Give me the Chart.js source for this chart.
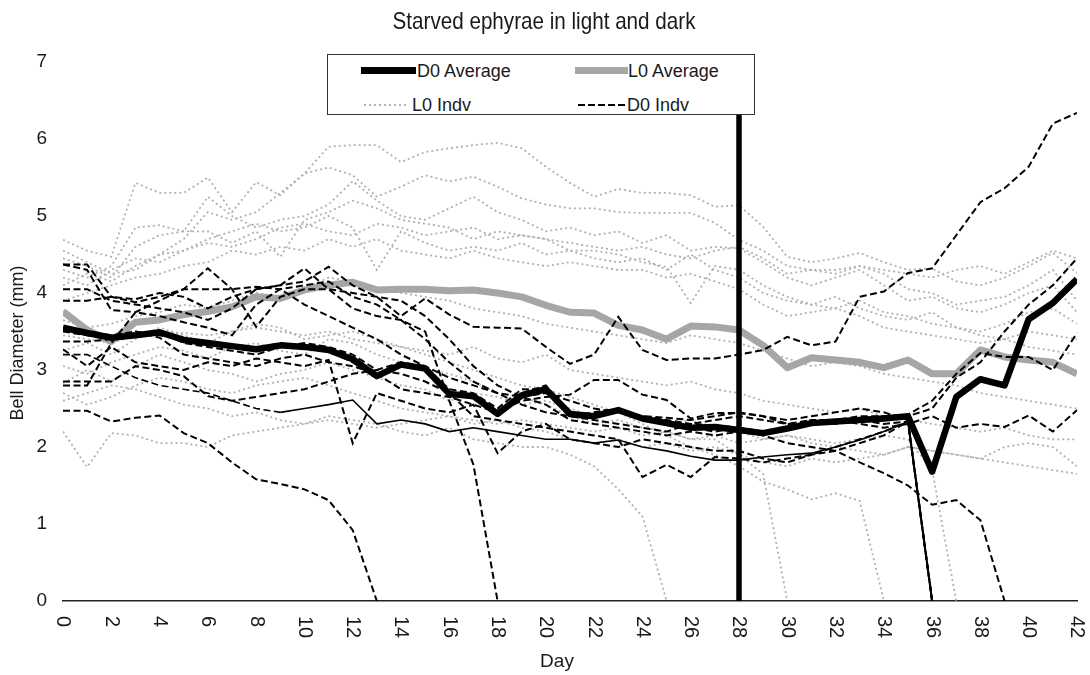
<!DOCTYPE html>
<html>
<head>
<meta charset="utf-8">
<script src="https://cdn.jsdelivr.net/npm/chart.js@4.4.1/dist/chart.umd.min.js"></script>
<style>
  html, body { margin: 0; padding: 0; background: #fff; }
  #wrap { position: relative; width: 1090px; height: 675px; }
  #legend {
    position: absolute; left: 327px; top: 54px; width: 426px; height: 59px;
    border: 1.5px solid #333; background: #fff;
    font-family: 'Liberation Sans Narrow', 'Arial Narrow', 'Liberation Sans', Arial, sans-serif;
    font-size: 18px; color: #1a1a1a;
  }
  #legend .txt { position: absolute; line-height: 20px; white-space: nowrap; }
  #legend .smp { position: absolute; }
</style>
</head>
<body>
<div id="wrap">
  <canvas id="chart" width="1090" height="675"></canvas>
  <div id="legend">
    <div class="smp" style="left:33px;top:12px;width:55px;height:7px;background:#000;"></div>
    <div class="txt" style="left:89px;top:6px;">D0 Average</div>
    <div class="smp" style="left:247px;top:12px;width:53px;height:7px;background:#aaa5a5;"></div>
    <div class="txt" style="left:300px;top:6px;">L0 Average</div>
    <div class="smp" style="left:36px;top:49px;width:45px;height:2px;background:repeating-linear-gradient(90deg,#b3b3b3 0 2px,transparent 2px 5px);"></div>
    <div class="txt" style="left:84px;top:40px;">L0 Indv</div>
    <div class="smp" style="left:250px;top:49px;width:48px;height:2px;background:repeating-linear-gradient(90deg,#000 0 7px,transparent 7px 10px);"></div>
    <div class="txt" style="left:299px;top:40px;">D0 Indv</div>
  </div>
</div>
<script>
const days = [0,1,2,3,4,5,6,7,8,9,10,11,12,13,14,15,16,17,18,19,20,21,22,23,24,25,26,27,28,29,30,31,32,33,34,35,36,37,38,39,40,41,42];
const markerDay = 28;

const d0Average = [3.55,3.48,3.42,3.45,3.49,3.39,3.35,3.31,3.27,3.32, 3.30,3.26,3.14,2.92,3.07,3.02,2.69,2.66,2.43,2.67, 2.75,2.43,2.40,2.48,2.37,2.31,2.25,2.26,2.22,2.18, 2.24,2.31,2.33,2.35,2.37,2.40,1.68,2.65,2.88,2.80, 3.66,3.87,4.18];
const l0Average = [3.76,3.52,3.37,3.62,3.65,3.72,3.76,3.82,3.95,3.93, 4.04,4.10,4.14,4.04,4.05,4.05,4.03,4.04,4.00,3.95, 3.84,3.75,3.74,3.58,3.52,3.40,3.57,3.56,3.52,3.32, 3.03,3.16,3.13,3.10,3.03,3.13,2.95,2.95,3.26,3.17, 3.13,3.10,2.95];

// L0 individuals (light)
const l0a = [4.69,4.55,4.47,5.43,5.30,5.30,5.50,5.05,5.44,5.27, 5.55,5.90,5.92,5.92,5.70,5.83,5.88,5.92,5.95,5.88, 5.64,5.43,5.25,5.35,5.30,5.30,5.27,5.12,5.14,4.86, 4.47,4.40,4.45,4.52,4.40,4.30,4.32,4.15,4.10,4.20, 4.35,4.52,4.26];
const l0b = [4.55,4.40,4.25,4.30,4.50,4.70,5.05,4.95,5.05,5.30, 5.55,5.63,5.53,5.25,5.38,5.53,5.45,5.51,5.38,5.23, 5.15,5.10,5.10,5.05,5.04,5.04,5.04,4.91,4.69,4.55, 4.35,4.30,4.30,4.35,4.25,4.05,4.00,3.85,3.90,3.95, 4.10,4.30,3.90];
const l0c = [4.45,4.35,4.20,4.60,4.75,4.80,5.25,5.00,4.85,4.95, 5.00,5.15,5.45,5.20,5.00,4.95,5.10,5.25,5.05,4.95, 4.80,4.85,4.75,4.80,4.65,4.75,4.55,4.60,4.58,4.40, 4.20,4.10,4.20,4.30,4.10,3.90,3.95,3.80,3.75,3.85, 4.00,4.10,3.75];
const l0d = [4.30,4.20,4.35,4.85,4.88,4.80,4.80,4.65,4.80,4.47, 4.95,5.05,5.20,5.10,4.95,4.90,4.85,4.70,4.80,4.75, 4.70,4.55,4.55,4.50,4.40,4.34,3.87,4.35,4.30,4.10, 3.95,3.85,3.80,3.90,3.75,3.70,3.60,3.55,3.50,3.60, 3.75,3.80,3.60];
const l0e = [4.10,4.25,4.15,4.35,4.50,4.55,4.70,4.80,4.90,4.80, 4.85,5.00,4.85,4.30,4.80,4.65,4.55,4.60,4.55,4.65, 4.50,4.55,4.45,4.40,4.45,4.30,4.50,4.30,4.20,4.00, 3.90,3.85,3.95,3.80,3.70,3.65,3.75,3.55,3.45,3.40, 3.50,3.45,3.40];
const l0f = [3.90,4.00,4.10,4.20,4.25,4.35,4.40,4.55,4.50,4.60, 4.55,4.70,4.60,4.70,4.55,4.50,4.45,4.55,4.45,4.40, 4.35,4.40,4.35,4.30,4.30,4.20,4.25,4.15,4.05,3.85, 3.70,3.75,3.80,3.70,3.55,3.50,3.45,3.40,3.35,3.40, 3.30,3.25,3.20];
const l0g = [3.65,3.55,3.60,3.70,3.75,3.85,3.80,3.90,4.00,3.95, 4.05,4.20,4.15,4.05,4.00,3.95,3.90,3.80,3.75,3.70, 3.60,3.55,3.50,3.45,3.40,3.35,3.45,3.40,3.35,3.25, 3.15,3.05,3.10,3.05,2.95,2.90,2.85,2.80,2.70,2.65, 2.60,2.55,2.50];
const l0h = [3.45,3.40,3.35,3.45,3.50,3.48,3.45,3.50,3.55,3.50, 3.45,3.50,3.40,3.35,3.30,3.25,3.20,3.30,3.15,3.10, 3.20,3.00,2.95,2.90,2.85,2.80,2.85,2.75,2.70,2.60, 2.55,2.50,2.45,2.50,2.40,2.35,2.30,2.25,2.20,2.25, 2.15,2.10,2.10];
const l0i = [2.83,3.00,2.85,3.05,3.20,3.10,3.00,2.95,2.85,2.95, 3.00,3.10,3.00,2.90,2.80,2.75,2.60,2.70,2.65,2.55, 2.60,2.50,2.40,2.45,2.35,2.30,2.35,2.25,2.20,2.10, 2.15,2.05,2.00,1.95,1.90,2.00,1.95,1.90,1.85,1.80, 1.75,1.70,1.65];
const l0j = [2.60,2.70,2.80,2.75,2.65,2.55,2.50,2.40,2.45,2.35, 2.30,2.40,2.35,2.30,2.20,2.15,2.25,2.10,2.05,2.00, 2.00,1.90,1.75,1.45,1.10,0];
const l0k = [2.20,1.74,2.18,2.15,2.05,2.05,2.00,2.15,2.20,2.25, 2.30,2.35,2.30,2.25,2.30,2.35,2.40,2.30,2.35,2.25, 2.20,2.10,2.05,2.10,2.00,2.05,1.95,2.00,1.90,1.80, 1.75,1.85,1.80,1.85,1.90,2.00,1.95,1.90,1.85,2.00, 2.05,2.00,1.75];
const l0l = [3.05,2.95,3.10,3.20,3.30,3.25,3.15,3.30,3.35,3.25, 3.20,3.40,3.35,3.20,3.10,3.00,2.95,2.85,2.70,2.65, 2.55,2.40,2.30,2.35,2.25,2.20,2.10,2.10,1.90,1.65, 0];
const l0m = [3.25,3.35,3.20,3.40,3.55,3.45,3.35,3.50,3.60,3.55, 3.40,3.45,3.50,3.40,3.30,3.20,3.10,3.00,2.90,2.80, 2.75,2.65,2.55,2.45,2.30,2.15,2.00,1.90,1.75,1.55, 1.45,1.32,1.40,1.30,0];
const l0n = [2.70,2.55,2.65,2.80,2.90,2.85,2.75,2.70,2.80,2.85, 2.90,2.80,2.70,2.60,2.50,2.45,2.40,2.35,2.30,2.35, 2.30,2.25,2.20,2.25,2.15,2.20,2.10,2.15,2.05,2.10, 2.15,2.10,2.05,2.10,2.15,2.10,1.70,0];
const l0o = [4.20,4.10,4.30,4.45,4.40,4.55,4.65,4.60,4.70,4.85, 4.90,4.80,4.75,4.90,4.85,4.75,4.80,4.85,4.70,4.75, 4.70,4.65,4.60,4.55,4.60,4.50,4.45,4.55,4.60,4.45, 4.25,4.30,4.25,4.35,4.30,4.25,4.20,4.30,4.35,4.25, 4.40,4.55,4.45];

// D0 individuals (dark)
const d0a = [2.47,2.47,2.33,2.38,2.41,2.18,2.05,1.80,1.58,1.52, 1.45,1.31,0.92,0];
const d0b = [4.37,4.37,3.95,3.88,3.95,4.05,4.05,4.05,4.08,4.05, 4.10,4.15,3.95,3.85,3.65,3.40,3.10,2.85,2.70,2.55, 2.45,2.40,2.35,2.30,2.25,2.20,2.30,2.35,2.40,2.35, 2.30,2.30,2.35,2.40,2.40,2.40,2.50,2.90,3.10,3.50, 3.85,4.10,4.45];
const d0c = [4.37,4.30,3.78,3.75,3.90,4.05,4.32,4.05,3.56,3.95, 4.05,4.05,4.00,3.95,3.90,3.70,3.40,3.05,2.80,2.65, 2.55,2.35,2.30,2.25,2.20,2.15,2.20,2.15,2.20,2.15, 2.05,2.00,1.95,1.80,1.66,1.50,1.25,1.31,1.05,0];
const d0d = [4.05,4.05,3.90,3.85,3.80,3.75,3.65,3.80,4.05,4.10, 4.32,4.05,3.80,3.70,3.65,3.50,2.60,1.77,0];
const d0e = [3.90,3.90,3.95,3.92,4.00,3.95,3.80,3.95,4.05,4.10, 4.15,4.34,4.10,3.95,3.70,3.93,3.72,3.56,3.55,3.54, 3.30,3.08,3.20,3.69,3.26,3.13,3.15,3.15,3.20,3.26, 3.43,3.32,3.37,3.95,4.02,4.26,4.32,4.75,5.18,5.36, 5.64,6.20,6.34];
const d0f = [3.55,3.50,3.45,3.50,3.45,3.40,3.35,3.30,3.28,3.35, 3.30,3.25,3.10,2.90,3.05,3.00,2.70,2.65,2.45,2.70, 2.80,2.45,2.40,2.48,2.40,2.35,2.30,2.28,2.25,2.20, 2.25,2.35,2.35,2.38,2.40,2.42,2.60,2.95,3.22,3.17, 3.17,3.00,3.48];
const d0g = [3.50,3.45,3.40,3.45,3.50,3.35,3.30,3.25,3.20,3.30, 3.35,3.30,3.20,3.00,3.10,3.05,2.75,2.70,2.50,2.75, 2.75,2.40,2.45,2.50,2.35,2.30,2.25,2.20,2.25,2.20, 2.25,2.30,2.35,2.30,2.25,2.30,2.40,2.25,2.30,2.26, 2.41,2.20,2.48];
const d0h = [3.37,3.37,3.40,3.50,3.42,3.20,3.15,3.10,3.05,3.15, 3.20,3.10,3.05,2.95,2.75,2.70,2.65,2.55,2.45,2.60, 2.65,2.68,2.87,2.87,2.68,2.61,2.37,2.44,2.44,2.40, 2.35,2.40,2.45,2.50,2.45,2.35,0];
const d0i = [3.20,3.20,3.05,2.90,2.80,2.75,2.70,2.60,2.50,2.45, 2.50,2.55,2.61,2.30,2.35,2.30,2.20,2.25,2.20,2.15, 2.10,2.10,2.05,2.09,2.00,1.95,1.88,1.83,1.83,1.87, 1.90,1.92,2.00,2.09,2.20,2.33,0];
const d0j = [3.27,3.05,3.30,3.10,3.05,3.00,3.10,3.05,3.15,3.10, 3.05,3.13,2.05,2.70,2.60,2.50,2.45,2.55,1.92,2.20, 2.30,2.10,2.05,2.00,2.10,2.05,2.00,1.95,1.95,1.85, 1.80,1.90,1.95,2.05,2.15,2.33,0];
const d0k = [2.85,2.85,2.85,3.05,3.00,2.92,2.66,2.60,2.65,2.70, 2.75,2.85,2.95,3.00,2.95,2.85,2.70,2.40,2.35,2.30, 2.25,2.20,2.15,2.10,1.61,1.77,1.61,1.87,1.85,1.80, 1.85,1.90,2.00,2.10,2.20,2.33,0];
const d0l = [2.80,2.80,3.35,3.75,3.70,3.62,3.55,3.45,3.85,4.05, 3.85,3.70,3.55,3.40,3.20,3.05,2.90,2.80,2.70,2.65, 2.70,2.60,2.50,2.45,2.40,2.38,2.35,2.40,2.45,2.40, 2.30,2.35,2.30,2.35,2.30,2.33,0];

const l0Indv = [l0a,l0b,l0c,l0d,l0e,l0f,l0g,l0h,l0i,l0j,l0k,l0l,l0m,l0n,l0o];
const d0Indv = [d0a,d0b,d0c,d0d,d0e,d0f,d0g,d0h,d0j,d0k,d0l];
const d0Solid = d0i;   // the thin line that reads as solid after day 9

const titleText = 'Starved ephyrae in light and dark';
const xTitle = 'Day';
const yTitle = 'Bell Diameter (mm)';

const fontFamily = "'Liberation Sans Narrow', 'Arial Narrow', 'Liberation Sans', Arial, sans-serif";
const textColor = '#1a1a1a';
const dashD0 = [7, 3.5];
const dashL0 = [2, 3];

function pts(vals) {
    return vals.map((v, i) => ({x: days[i], y: v}));
}

let datasets = [];
datasets.push({ data: [{x: markerDay, y: 0}, {x: markerDay, y: 7}], borderColor: '#000', borderWidth: 5.5 });
datasets.push({ data: pts(d0Average), borderColor: '#000', borderWidth: 6.5, borderJoinStyle: 'round' });
for (let s of d0Indv) {
    datasets.push({ data: pts(s), borderColor: '#000', borderWidth: 2, borderDash: dashD0 });
}
datasets.push({
    data: pts(d0Solid), borderColor: '#000', borderWidth: 1.6,
    segment: { borderDash: c => c.p0DataIndex < 9 ? dashD0 : [] }
});
datasets.push({ data: pts(l0Average), borderColor: '#aaa5a5', borderWidth: 7, borderJoinStyle: 'round' });
for (let s of l0Indv) {
    datasets.push({ data: pts(s), borderColor: '#b0b0b0', borderWidth: 1.8, borderDash: dashL0 });
}

// title drawn condensed, x tick labels read top-to-bottom, axis titles
const axisText = {
    id: 'axisText',
    afterDraw(chart) {
        const ctx = chart.ctx;
        const x = chart.scales.x, y = chart.scales.y;
        ctx.save();
        ctx.fillStyle = textColor;
        ctx.textBaseline = 'middle';

        ctx.save();
        ctx.translate(544, 22);
        ctx.scale(0.86, 1);
        ctx.font = '24px ' + fontFamily;
        ctx.textAlign = 'center';
        ctx.fillText(titleText, 0, 0);
        ctx.restore();

        ctx.font = '20px ' + fontFamily;
        ctx.textAlign = 'left';
        x.ticks.forEach(t => {
            ctx.save();
            ctx.translate(x.getPixelForValue(t.value), y.bottom + 15);
            ctx.rotate(Math.PI / 2);
            ctx.fillText(String(t.value), 0, 0);
            ctx.restore();
        });

        ctx.font = '19px ' + fontFamily;
        ctx.textAlign = 'center';
        ctx.fillText(xTitle, 557, 662);
        ctx.translate(18, 343);
        ctx.rotate(-Math.PI / 2);
        ctx.font = '18px ' + fontFamily;
        ctx.fillText(yTitle, 0, 0);
        ctx.restore();
    }
};

new Chart(document.getElementById('chart'), {
    type: 'line',
    data: { datasets: datasets },
    plugins: [axisText],
    options: {
        responsive: false,
        animation: false,
        devicePixelRatio: 1,
        layout: { padding: { left: 0, right: 13, top: 62, bottom: 0 } },
        elements: { point: { radius: 0 }, line: { tension: 0, fill: false } },
        plugins: {
            legend: { display: false },
            tooltip: { enabled: false },
            title: { display: false }
        },
        scales: {
            x: {
                type: 'linear', min: 0, max: 42,
                ticks: { stepSize: 2, display: false },
                grid: { display: false },
                border: { display: true, color: '#222', width: 1.5 },
                afterFit: s => { s.height = 74; }
            },
            y: {
                min: 0, max: 7,
                ticks: { stepSize: 1, padding: 16, color: textColor, font: { family: fontFamily, size: 19 } },
                grid: { display: false, drawTicks: false },
                border: { display: false },
                afterFit: s => { s.width = 63; }
            }
        }
    }
});
</script>
</body>
</html>
